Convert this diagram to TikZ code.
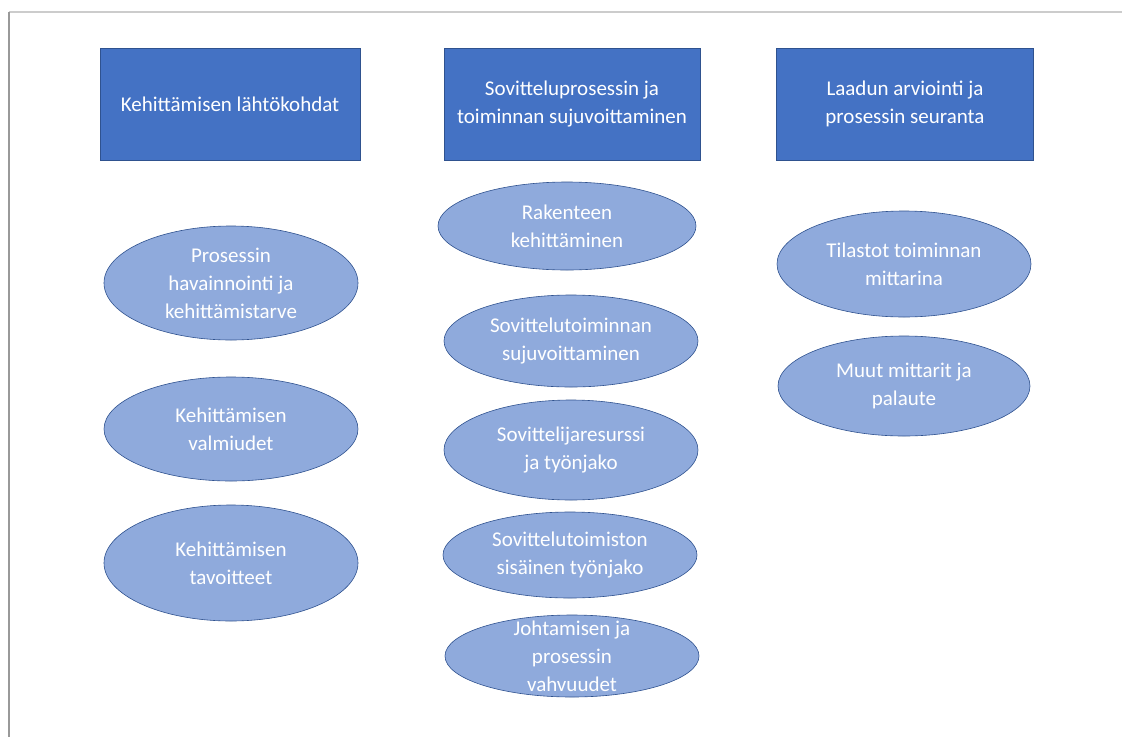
\documentclass[tikz,border=0pt]{standalone}
\usepackage{fontspec}
\setmainfont{Carlito}
\usepackage{xcolor}
\usetikzlibrary{shapes.geometric}

\definecolor{headblue}{HTML}{4472C4}
\definecolor{ovalblue}{HTML}{8FAADC}
\definecolor{edgeblue}{HTML}{2F528F}

\begin{document}
\begin{tikzpicture}[
  x=1pt, y=-1pt,
  head/.style={draw=edgeblue, line width=0.6pt, fill=headblue, text=white, align=center,
    minimum width=257pt, minimum height=112pt, inner sep=0pt, font=\fontsize{21}{28}\selectfont},
  oval/.style={ellipse, draw=edgeblue, line width=0.6pt, fill=ovalblue, minimum width=254pt, inner sep=0pt},
  ovaltext/.style={text=white, align=center, font=\fontsize{21}{28}\selectfont}
]
\useasboundingbox (0,0) rectangle (1122,737);
% page edges
\draw[black!20, line width=1.5pt] (9,12) -- (1122,12);
\draw[black!40, line width=2pt] (9,12) -- (9,737);

% column headers
\node[head, minimum width=260pt] (start) at (230,104) {Kehittämisen lähtökohdat};
\node[head, minimum width=256pt] (flow) at (572,104) {Sovitteluprosessin ja\\toiminnan sujuvoittaminen};
\node[head] (quality) at (905,104) {Laadun arviointi ja\\prosessin seuranta};

% first column
\node[oval, minimum height=114pt] (observe) at (231,283) {};
\node[ovaltext] (observetxt) at (observe) {Prosessin\\havainnointi ja\\kehittämistarve};
\node[oval, minimum height=104pt] (ready) at (231,429) {};
\node[ovaltext] (readytxt) at (ready) {Kehittämisen\\valmiudet};
\node[oval, minimum height=116pt] (goals) at (231,563) {};
\node[ovaltext] (goalstxt) at (goals) {Kehittämisen\\tavoitteet};

% second column
\node[oval, minimum width=258pt, minimum height=88pt] (structure) at (567,226) {};
\node[ovaltext] (structuretxt) at (structure) {Rakenteen\\kehittäminen};
\node[oval, minimum height=92pt] (smooth) at (571,341) {};
\node[ovaltext] (smoothtxt) at (smooth) {Sovittelutoiminnan\\sujuvoittaminen};
\node[oval, minimum height=100pt] (resource) at (571,450) {};
\node[ovaltext] (resourcetxt) at (resource) {Sovittelijaresurssi\\ja työnjako};
\node[oval, minimum height=86pt] (office) at (570,555) {};
\node[ovaltext] (officetxt) at (office) {Sovittelutoimiston\\sisäinen työnjako};
\node[oval, minimum height=82pt] (lead) at (572,656) {};
\node[ovaltext] (leadtxt) at (lead) {Johtamisen ja\\prosessin\\vahvuudet};

% third column
\node[oval, minimum height=106pt] (stats) at (904,264) {};
\node[ovaltext] (statstxt) at (stats) {Tilastot toiminnan\\mittarina};
\node[oval, minimum width=252pt, minimum height=100pt] (other) at (904,386) {};
\node[ovaltext] (othertxt) at (other) {Muut mittarit ja\\palaute};
\end{tikzpicture}
\end{document}
